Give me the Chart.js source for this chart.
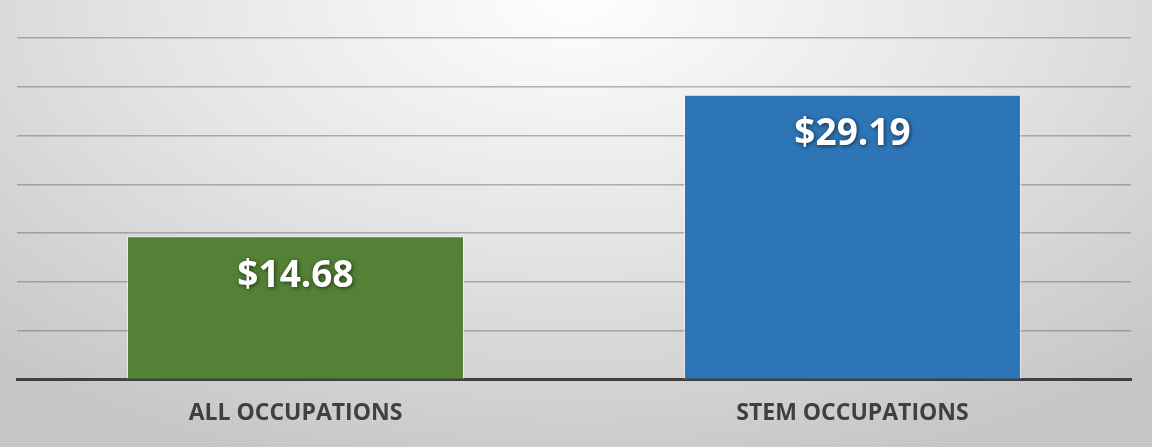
<!DOCTYPE html>
<html>
<head>
<meta charset="utf-8">
<script src="https://cdn.jsdelivr.net/npm/chart.js@4/dist/chart.umd.min.js"></script>
<style>
  html, body { margin: 0; padding: 0; }
  body {
    width: 1152px; height: 447px; overflow: hidden;
    background: radial-gradient(ellipse 75% 110% at 50% 0%, #fefefe 0%, #e4e4e4 50%, #cfcfcf 85%, #c6c6c6 100%);
  }
  #wrap { position: relative; width: 1152px; height: 447px; }
</style>
</head>
<body>
<div id="wrap"><canvas id="myChart"></canvas></div>
<script>
const categories = ['ALL OCCUPATIONS', 'STEM OCCUPATIONS'];
const wages = [14.68, 29.19];
const barColors = ['#538135', '#2e75b6'];

// Draws the "$xx.xx" labels inside the bars, near the top
const barLabels = {
    id: 'barLabels',
    afterDatasetsDraw(chart) {
        const ctx = chart.ctx;
        const meta = chart.getDatasetMeta(0);
        ctx.save();
        ctx.font = 'bold 37px "Open Sans", sans-serif';
        ctx.fillStyle = '#ffffff';
        ctx.textAlign = 'center';
        ctx.textBaseline = 'middle';
        ctx.shadowColor = 'rgba(0,0,0,0.6)';
        ctx.shadowBlur = 4;
        ctx.shadowOffsetX = 1;
        ctx.shadowOffsetY = 1;
        meta.data.forEach((bar, i) => {
            ctx.fillText('$' + wages[i].toFixed(2), bar.x, bar.y + 40);
        });
        ctx.restore();
    }
};

const chartCanvas = document.getElementById('myChart');
new Chart(chartCanvas, {
    type: 'bar',
    data: {
        labels: categories,
        datasets: [{
            data: wages,
            backgroundColor: barColors,
            borderColor: 'rgba(255,255,255,0.55)',
            borderWidth: 1,
            categoryPercentage: 1,
            barPercentage: 0.605
        }]
    },
    options: {
        responsive: true,
        maintainAspectRatio: false,
        animation: false,
        layout: { padding: { left: 17, right: 21, top: 38, bottom: 0 } },
        scales: {
            y: {
                min: 0,
                max: 35,
                ticks: { display: false, stepSize: 5 },
                grid: { color: 'rgba(110,110,110,0.5)', lineWidth: 1.5, drawTicks: false },
                border: { display: false }
            },
            x: {
                grid: { display: false, drawTicks: false },
                border: { color: '#404040', width: 3 },
                ticks: {
                    padding: 20,
                    color: '#404040',
                    font: { family: '"Open Sans", sans-serif', size: 23, weight: 'bold' }
                }
            }
        },
        plugins: {
            legend: { display: false },
            tooltip: { enabled: false }
        }
    },
    plugins: [barLabels]
});
</script>
</body>
</html>
